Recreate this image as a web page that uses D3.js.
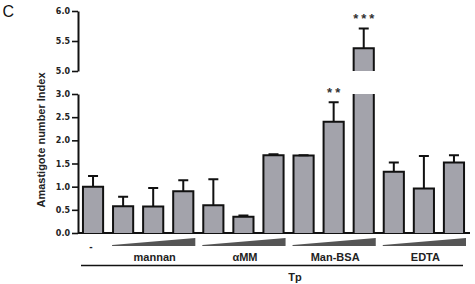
<!DOCTYPE html>
<html>
<head>
<meta charset="utf-8">
<script src="https://cdn.jsdelivr.net/npm/d3@7"></script>
<style>
  body { margin: 0; background: #fff; }
  svg { display: block; }
</style>
</head>
<body>
<div id="chart"></div>
<script>
// bars, left to right
const bars = ["ctrl", "man1", "man2", "man3", "amm1", "amm2", "amm3", "bsa1", "bsa2", "bsa3", "edta1", "edta2", "edta3"];
const means = [1.00, 0.58, 0.57, 0.90, 0.60, 0.35, 1.68, 1.67, 2.40, 5.38, 1.32, 0.96, 1.52];
const errTops = [1.23, 0.78, 0.97, 1.14, 1.16, 0.38, 1.70, 1.68, 2.82, 5.71, 1.52, 1.66, 1.68];
const stars = ["", "", "", "", "", "", "", "", "**", "***", "", "", ""];

const groups = ["mannan", "αMM", "Man-BSA", "EDTA"];
const groupFirst = [1, 4, 7, 10];
const groupLast = [3, 6, 9, 12];

const lowTicks = [0, 0.5, 1.0, 1.5, 2.0, 2.5, 3.0];
const highTicks = [5.0, 5.5, 6.0];

function drawChart() {
    const W = 475, H = 284;
    const svg = d3.select("#chart").append("svg")
        .attr("width", W).attr("height", H);

    const x = d3.scaleBand().domain(bars).range([78, 469])
        .paddingInner(0.33).paddingOuter(0.165);
    const yLow = d3.scaleLinear().domain([0, 3]).range([233, 94]);
    const yHigh = d3.scaleLinear().domain([5, 6]).range([71, 11]);

    const fill = "#a3a3ab";

    // axes
    function styleAxis(g) {
        g.select(".domain").attr("stroke", "#111").attr("stroke-width", 2);
        g.selectAll(".tick line").attr("stroke", "#111").attr("stroke-width", 1.6);
        g.selectAll(".tick text")
            .attr("font-family", "DejaVu Sans")
            .attr("font-weight", "bold")
            .attr("font-size", "8px")
            .attr("fill", "#222");
    }
    svg.append("g").attr("transform", "translate(78,0)")
        .call(d3.axisLeft(yLow).tickValues(lowTicks).tickFormat(d3.format(".1f"))
            .tickSize(6).tickSizeOuter(0).tickPadding(2))
        .call(styleAxis);
    svg.append("g").attr("transform", "translate(78,0)")
        .call(d3.axisLeft(yHigh).tickValues(highTicks).tickFormat(d3.format(".1f"))
            .tickSize(6).tickSizeOuter(0).tickPadding(2))
        .call(styleAxis);

    // x baseline
    svg.append("line")
        .attr("x1", 78).attr("x2", 470)
        .attr("y1", yLow(0)).attr("y2", yLow(0))
        .attr("stroke", "#111").attr("stroke-width", 2);

    const bw = x.bandwidth();

    // bars (lower panel)
    bars.forEach(function (b, i) {
        const x0 = x(b), x1 = x(b) + bw;
        const broken = means[i] > 3;
        const top = broken ? yLow(3) : yLow(means[i]);
        svg.append("rect")
            .attr("x", x0).attr("y", top)
            .attr("width", bw).attr("height", yLow(0) - top)
            .attr("fill", fill);
        const path = broken
            ? `M${x0},${yLow(0)}V${top}M${x1},${top}V${yLow(0)}`
            : `M${x0},${yLow(0)}V${top}H${x1}V${yLow(0)}`;
        svg.append("path").attr("d", path)
            .attr("fill", "none").attr("stroke", "#111").attr("stroke-width", 2);

        if (broken) {
            const t = yHigh(means[i]), bot = yHigh(5);
            svg.append("rect")
                .attr("x", x0).attr("y", t)
                .attr("width", bw).attr("height", bot - t)
                .attr("fill", fill);
            svg.append("path").attr("d", `M${x0},${bot}V${t}H${x1}V${bot}`)
                .attr("fill", "none").attr("stroke", "#111").attr("stroke-width", 2);
        }

        // error bar
        const ys = broken ? yHigh : yLow;
        const cx = x0 + bw / 2;
        const ye = ys(errTops[i]);
        svg.append("path")
            .attr("d", `M${cx},${ys(means[i])}V${ye}M${cx - 5},${ye}H${cx + 5}`)
            .attr("fill", "none").attr("stroke", "#111").attr("stroke-width", 2);

        if (stars[i]) {
            svg.append("text")
                .attr("x", cx + 1.5).attr("y", ye - 5)
                .attr("text-anchor", "middle")
                .attr("font-family", "Liberation Sans, Arial")
                .attr("font-weight", "bold")
                .attr("font-size", "13px")
                .attr("letter-spacing", "3px")
                .attr("fill", "#333")
                .text(stars[i]);
        }
    });

    // "-" under control
    svg.append("text")
        .attr("x", x(bars[0]) + bw / 2 - 2).attr("y", 250)
        .attr("text-anchor", "middle")
        .attr("font-family", "Liberation Sans, Arial")
        .attr("font-weight", "bold").attr("font-size", "10px")
        .attr("fill", "#222")
        .text("-");

    // concentration wedges + group labels
    groups.forEach(function (g, k) {
        const gs = x(bars[groupFirst[k]]) - x.step() * x.paddingInner() / 2;
        const ge = x(bars[groupLast[k]]) + bw + x.step() * x.paddingInner() / 2;
        const a = gs + 4, b = ge - 3;
        svg.append("path")
            .attr("d", `M${a},${245}L${b},${238}L${b},${246}L${a},${246}Z`)
            .attr("fill", "#555");
        svg.append("text")
            .attr("x", (a + b) / 2 + 1).attr("y", 261)
            .attr("text-anchor", "middle")
            .attr("font-family", "Liberation Sans, Arial")
            .attr("font-weight", "bold").attr("font-size", "11px")
            .attr("fill", "#222")
            .text(g);
    });

    // Tp bracket
    svg.append("line")
        .attr("x1", 81).attr("x2", 463)
        .attr("y1", 265.5).attr("y2", 265.5)
        .attr("stroke", "#111").attr("stroke-width", 1.5);
    svg.append("text")
        .attr("x", 295).attr("y", 281)
        .attr("text-anchor", "middle")
        .attr("font-family", "Liberation Sans, Arial")
        .attr("font-weight", "bold").attr("font-size", "11px")
        .attr("fill", "#222")
        .text("Tp");

    // y label
    svg.append("text")
        .attr("transform", "translate(44.5,140) rotate(-90)")
        .attr("text-anchor", "middle")
        .attr("font-family", "Liberation Sans, Arial")
        .attr("font-weight", "bold").attr("font-size", "11px")
        .attr("fill", "#222")
        .text("Amastigote number Index");

    // panel letter
    svg.append("text")
        .attr("x", 2.5).attr("y", 17)
        .attr("font-family", "Liberation Sans, Arial")
        .attr("font-size", "16px")
        .attr("fill", "#111")
        .text("C");
}
drawChart();
</script>
</body>
</html>
